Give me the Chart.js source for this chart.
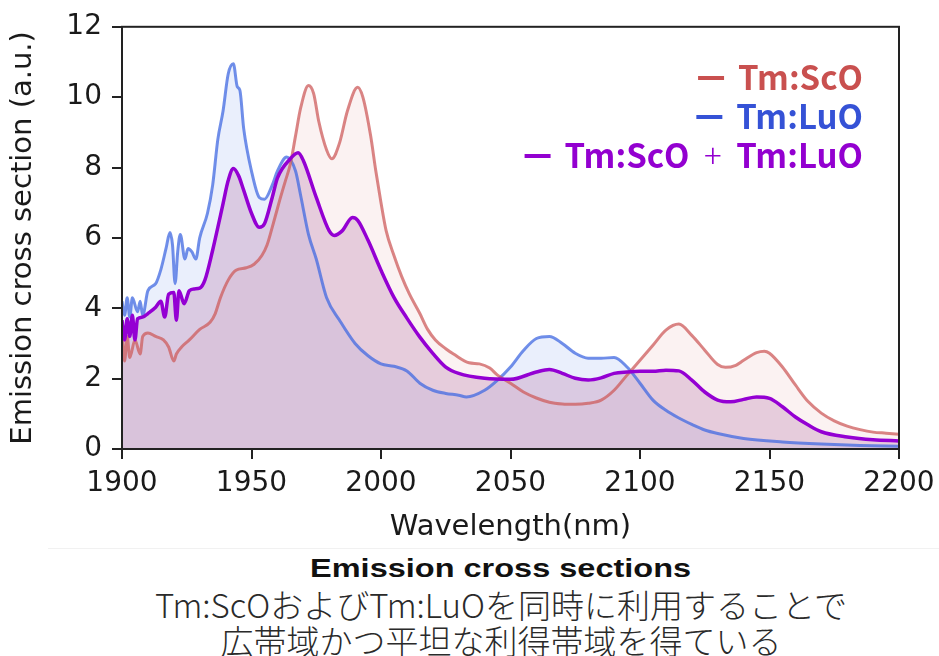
<!DOCTYPE html>
<html>
<head>
<meta charset="utf-8">
<script src="https://cdn.jsdelivr.net/npm/chart.js@4.4.1/dist/chart.umd.min.js"></script>
<style>
  body { margin: 0; background: #fff; width: 939px; height: 656px; overflow: hidden; position: relative; }
  #wrap { position: absolute; left: 0; top: 0; width: 939px; height: 545px; }
  #sep { position: absolute; left: 48px; right: 0; top: 548px; height: 1px; background: #f1f1f1; }
  .cap { position: absolute; left: 63px; width: 876px; text-align: center; white-space: nowrap; }
  #capTitle { top: 552px; font: bold 25px 'Liberation Sans', Arial, sans-serif; line-height: 32px; color: #111; }
  #capTitle span { display: inline-block; transform: scaleX(1.3); }
  .jp { font-family: 'Noto Sans CJK JP', sans-serif; font-weight: 300; font-size: 33px; line-height: 36px; color: #2a2a2a; }
  #jp1 { top: 586px; }
  #jp2 { top: 622px; }
</style>
</head>
<body>
<div id="wrap"><canvas id="chart" width="939" height="545"></canvas></div>
<div id="sep"></div>
<div id="capTitle" class="cap"><span>Emission cross sections</span></div>
<div id="jp1" class="cap jp">Tm:ScOおよびTm:LuOを同時に利用することで</div>
<div id="jp2" class="cap jp">広帯域かつ平坦な利得帯域を得ている</div>
<script>
// 系列名と軸ラベル
const seriesNames = ['Tm:ScO', 'Tm:LuO', 'Tm:ScO + Tm:LuO'];
const xTitle = 'Wavelength(nm)';
const yTitle = 'Emission cross section (a.u.)';
const xTicks = [1900, 1950, 2000, 2050, 2100, 2150, 2200];
const yTicks = [0, 2, 4, 6, 8, 10, 12];

// Tm:ScO
const scoNm = [1900, 1901, 1902, 1903, 1905, 1907, 1908, 1910, 1913, 1916, 1918, 1920, 1921, 1923, 1926,
  1930, 1934, 1936, 1938, 1941, 1944, 1948, 1951, 1954, 1956, 1958, 1961, 1963, 1965, 1967, 1969,
  1972, 1974, 1976, 1979, 1981, 1984, 1987, 1991, 1993, 1996, 1998, 2000, 2002, 2005, 2008, 2011,
  2015, 2018, 2021, 2025, 2028, 2034, 2038, 2042, 2045, 2050, 2055, 2060, 2065, 2070, 2075, 2080,
  2085, 2090, 2095, 2100, 2105, 2110, 2115, 2120, 2125, 2130, 2133, 2137, 2140, 2145, 2148, 2150,
  2155, 2160, 2165, 2170, 2175, 2180, 2185, 2190, 2195, 2200];
const scoVal = [3.3, 2.5, 3.2, 2.6, 3.1, 2.7, 3.2, 3.3, 3.2, 3.1, 2.9, 2.5, 2.7, 2.9, 3.1,
  3.4, 3.6, 3.85, 4.3, 4.8, 5.08, 5.15, 5.25, 5.5, 5.8, 6.3, 7.1, 7.6, 8.1, 8.9, 9.7,
  10.33, 10.1, 9.3, 8.5, 8.25, 8.7, 9.6, 10.28, 10.0, 8.9, 7.9, 7.0, 6.2, 5.5, 4.9, 4.4,
  3.85, 3.4, 3.1, 2.85, 2.7, 2.45, 2.42, 2.3, 2.1, 1.87, 1.62, 1.45, 1.33, 1.28, 1.27, 1.3,
  1.39, 1.67, 2.1, 2.52, 2.95, 3.38, 3.55, 3.23, 2.81, 2.4, 2.32, 2.38, 2.52, 2.74, 2.78, 2.72,
  2.33, 1.82, 1.34, 1.02, 0.8, 0.65, 0.55, 0.48, 0.45, 0.42];

// Tm:LuO
const luoNm = [1900, 1901, 1902, 1903, 1904, 1906, 1907, 1908, 1910, 1913, 1915, 1917, 1918.5, 1919.5,
  1920.5, 1921.5, 1922.5, 1924.3, 1925.5, 1927, 1928.5, 1930, 1933, 1935, 1937, 1939, 1941, 1943,
  1944.5, 1945.5, 1947, 1950, 1953, 1955, 1958, 1960, 1963.6, 1967, 1969, 1972, 1975, 1979, 1984,
  1990, 1995, 2000, 2005, 2010, 2015, 2020, 2025, 2030, 2033, 2040, 2045, 2050, 2055, 2060, 2065,
  2070, 2075, 2080, 2085, 2090, 2095, 2100, 2105, 2110, 2115, 2120, 2125, 2130, 2140, 2155, 2170,
  2185, 2200];
const luoVal = [4.2, 3.8, 4.3, 3.75, 4.3, 3.9, 4.2, 3.8, 4.5, 4.7, 5.1, 5.7, 6.15, 5.8,
  4.7, 5.6, 6.1, 5.4, 5.7, 5.6, 5.4, 6.0, 6.7, 7.5, 8.8, 9.6, 10.66, 10.95,
  10.3, 10.2, 9.1, 7.9, 7.15, 7.1, 7.5, 7.9, 8.3, 7.9, 7.2, 6.1, 5.4, 4.3, 3.66,
  3.0, 2.65, 2.42, 2.35, 2.22, 1.87, 1.67, 1.58, 1.53, 1.48, 1.67, 1.96, 2.33, 2.8, 3.14, 3.2,
  3.0, 2.72, 2.58, 2.58, 2.6, 2.33, 1.87, 1.39, 1.1, 0.88, 0.7, 0.54, 0.44, 0.3, 0.2, 0.14,
  0.1, 0.08];

// Tm:ScO + Tm:LuO
const mixNm = [1900, 1901, 1902, 1903, 1904, 1905, 1906, 1908, 1910, 1913, 1915, 1916.5, 1918, 1920,
  1921, 1922, 1924, 1926, 1928, 1930, 1932, 1935, 1937, 1939, 1941, 1943, 1945, 1947, 1950, 1953,
  1955, 1958, 1960, 1965, 1968, 1970, 1975, 1980, 1982, 1985, 1989, 1991, 1995, 2000, 2005, 2010,
  2015, 2020, 2025, 2030, 2040, 2050, 2060, 2065, 2070, 2075, 2080, 2085, 2090, 2095, 2100, 2105,
  2110, 2115, 2120, 2125, 2130, 2135, 2140, 2145, 2150, 2155, 2160, 2165, 2170, 2180, 2190, 2200];
const mixVal = [3.66, 3.1, 3.7, 3.2, 3.8, 3.1, 3.7, 3.75, 3.85, 4.03, 4.2, 3.75, 4.4, 4.45,
  3.66, 4.5, 4.13, 4.5, 4.55, 4.57, 4.8, 5.65, 6.3, 6.97, 7.63, 7.97, 7.77, 7.35, 6.7, 6.3,
  6.4, 7.15, 7.7, 8.25, 8.42, 8.2, 7.15, 6.2, 6.07, 6.2, 6.58, 6.5, 5.93, 5.08, 4.31, 3.72,
  3.18, 2.72, 2.33, 2.15, 2.01, 1.98, 2.19, 2.26, 2.15, 2.01, 1.96, 2.02, 2.15, 2.19, 2.21, 2.21,
  2.24, 2.22, 1.96, 1.62, 1.39, 1.34, 1.41, 1.48, 1.44, 1.2, 0.91, 0.68, 0.49, 0.34, 0.26, 0.23];

const lineColors = ['rgba(205, 92, 92, 0.75)', 'rgba(65, 105, 225, 0.75)', '#9400d3'];
const fillColors = ['rgba(205, 92, 92, 0.08)', 'rgba(65, 105, 225, 0.11)', 'rgba(186, 124, 175, 0.32)'];
const textColors = ['#c9504f', '#3552d6', '#9300d0'];

function toPoints(xs, ys) {
    return xs.map((x, i) => ({ x: x, y: ys[i] }));
}

// 右上の凡例
const cornerLegend = {
    id: 'cornerLegend',
    afterDraw(chart) {
        const ctx = chart.ctx;
        const right = 863;
        ctx.save();
        ctx.textAlign = 'right';
        ctx.textBaseline = 'alphabetic';
        seriesNames.forEach((name, i) => {
            const y = 90 + i * 39;
            const parts = name.split(' + ');
            let x = right;
            ctx.fillStyle = textColors[i];
            for (let p = parts.length - 1; p >= 0; p--) {
                ctx.font = "bold 33px 'Noto Sans CJK JP', sans-serif";
                ctx.fillText(parts[p], x, y);
                x -= ctx.measureText(parts[p]).width;
                if (p > 0) {
                    ctx.font = "300 33px 'Noto Sans CJK JP', sans-serif";
                    ctx.fillText('  +  ', x, y);
                    x -= ctx.measureText('  +  ').width;
                }
            }
            ctx.strokeStyle = textColors[i];
            ctx.lineWidth = 4;
            ctx.beginPath();
            ctx.moveTo(x - 14, y - 12);
            ctx.lineTo(x - 40, y - 12);
            ctx.stroke();
        });
        ctx.restore();
    }
};

// 枠線
const frame = {
    id: 'frame',
    afterDatasetsDraw(chart) {
        const a = chart.chartArea;
        const ctx = chart.ctx;
        ctx.save();
        ctx.strokeStyle = '#222';
        ctx.lineWidth = 2;
        ctx.strokeRect(a.left, a.top, a.right - a.left, a.bottom - a.top);
        ctx.restore();
    }
};

const axisFont = { family: "'DejaVu Sans', sans-serif", size: 28 };
const titleFont = { family: "'DejaVu Sans', sans-serif", size: 29 };

new Chart(document.getElementById('chart'), {
    type: 'line',
    data: {
        datasets: [
            { label: seriesNames[0], data: toPoints(scoNm, scoVal), order: 1 },
            { label: seriesNames[1], data: toPoints(luoNm, luoVal), order: 2 },
            { label: seriesNames[2], data: toPoints(mixNm, mixVal), order: 0 }
        ].map((d, i) => Object.assign(d, {
            borderColor: lineColors[i],
            backgroundColor: fillColors[i],
            borderWidth: i === 2 ? 3.5 : 3,
            fill: 'origin',
            pointRadius: 0,
            cubicInterpolationMode: 'monotone'
        }))
    },
    options: {
        responsive: false,
        animation: false,
        layout: { padding: { top: 26, right: 40, left: 0, bottom: 0 } },
        plugins: {
            legend: { display: false },
            tooltip: { enabled: false },
            filler: { drawTime: 'beforeDatasetsDraw' }
        },
        scales: {
            x: {
                type: 'linear',
                min: xTicks[0],
                max: xTicks[xTicks.length - 1],
                afterBuildTicks(scale) { scale.ticks = xTicks.map(v => ({ value: v })); },
                afterFit(scale) {
                    scale.height = 96;
                    scale.paddingLeft = 0;
                    scale.paddingRight = 0;
                },
                ticks: { font: axisFont, color: '#1a1a1a', padding: 8, maxRotation: 0, autoSkip: false,
                    callback: v => String(v) },
                grid: { drawOnChartArea: false, drawTicks: true, tickLength: 10, color: '#222', lineWidth: 2 },
                border: { display: false },
                title: { display: true, text: xTitle, font: titleFont, color: '#1a1a1a', padding: { top: 0, bottom: 0 } }
            },
            y: {
                min: yTicks[0],
                max: yTicks[yTicks.length - 1],
                afterBuildTicks(scale) { scale.ticks = yTicks.map(v => ({ value: v })); },
                afterFit(scale) { scale.width = 122; },
                ticks: { font: axisFont, color: '#1a1a1a', padding: 10, callback: v => String(v) },
                grid: { drawOnChartArea: false, drawTicks: true, tickLength: 10, color: '#222', lineWidth: 2 },
                border: { display: false },
                title: { display: true, text: yTitle, font: titleFont, color: '#1a1a1a', padding: { top: 6, bottom: 0 } }
            }
        }
    },
    plugins: [frame, cornerLegend]
});
</script>
</body>
</html>
